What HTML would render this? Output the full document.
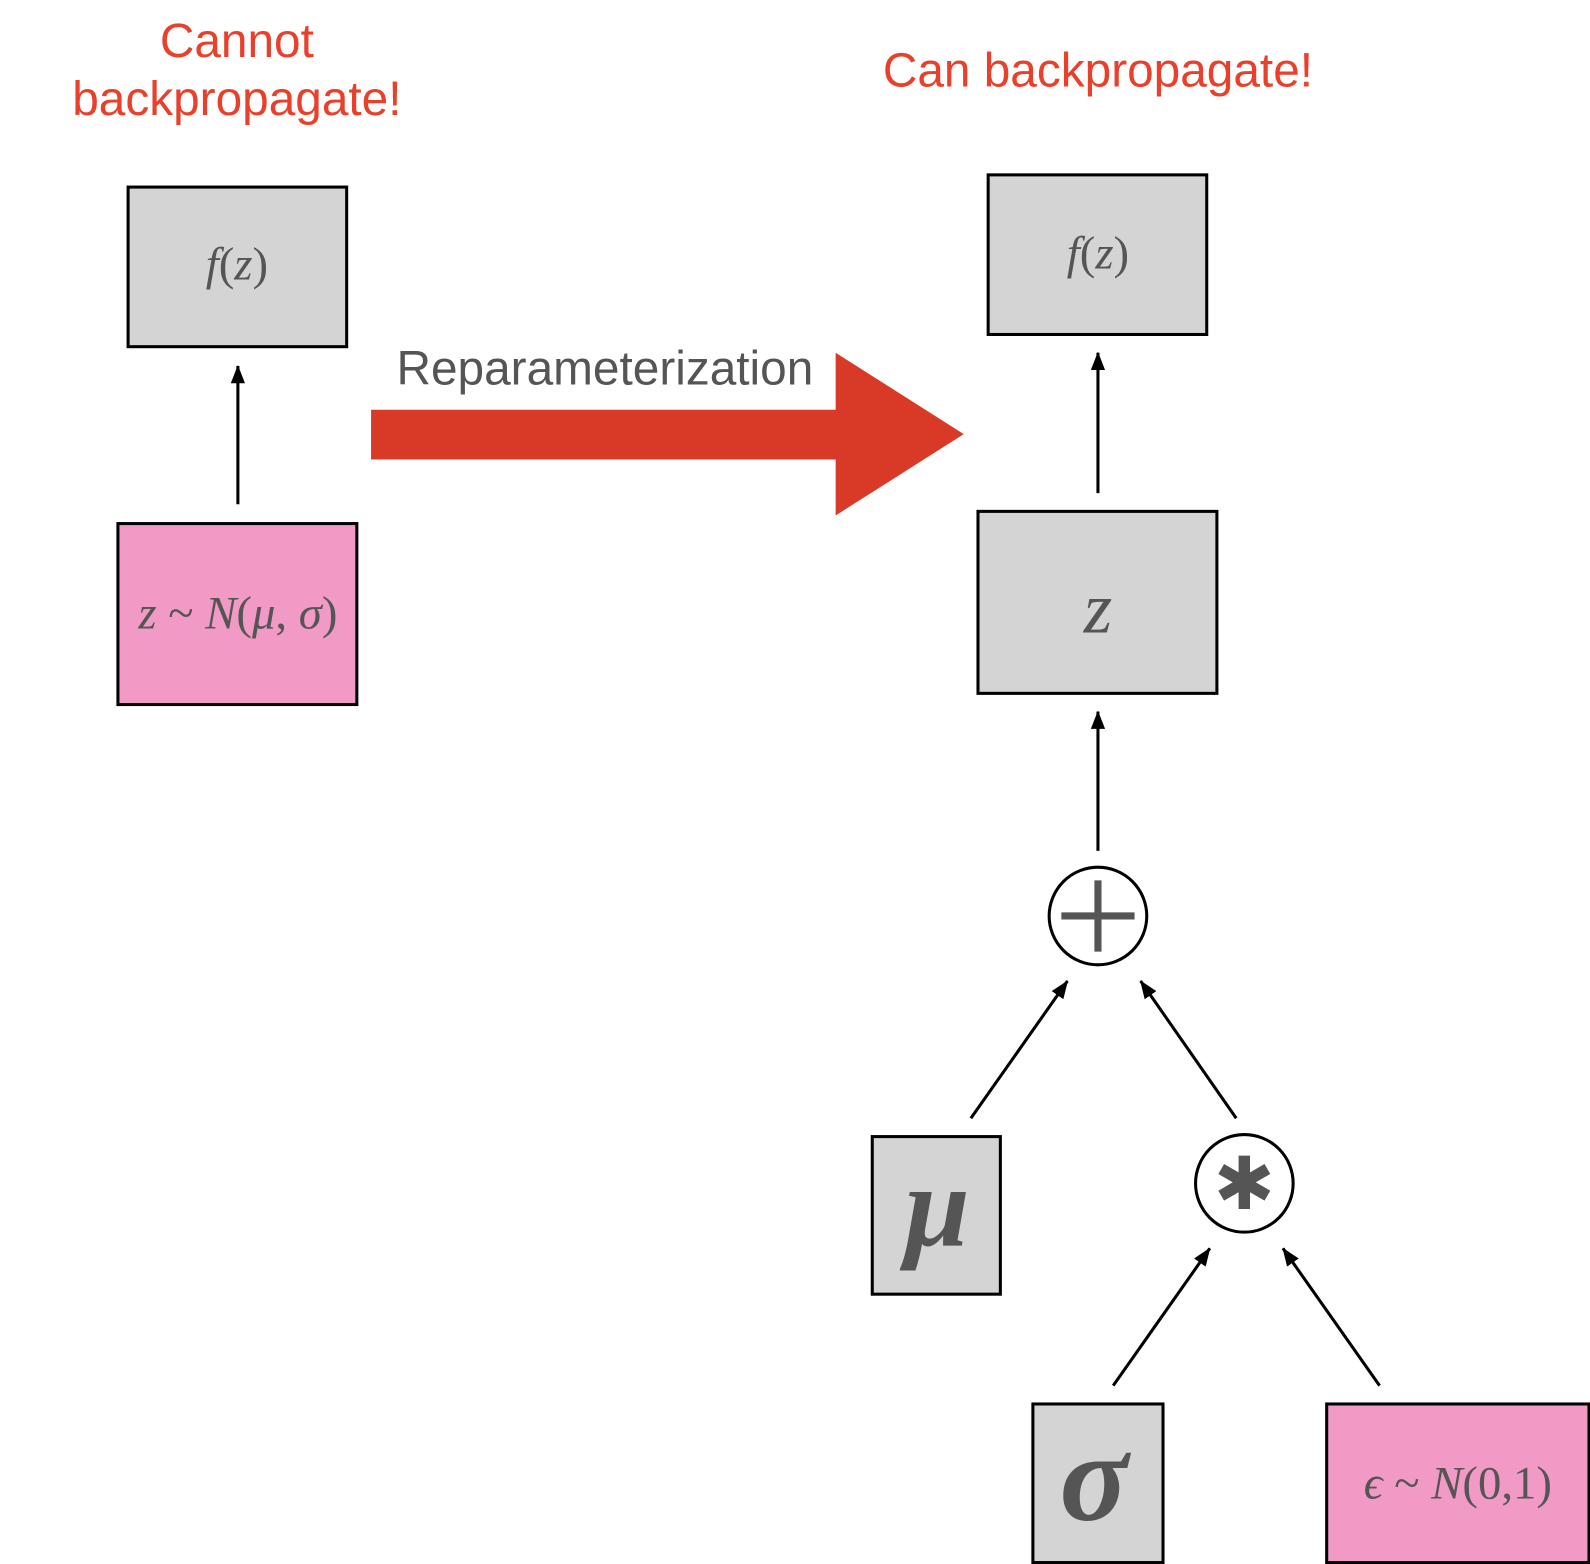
<!DOCTYPE html>
<html><head><meta charset="utf-8"><style>
html,body{margin:0;padding:0;background:#fff}
svg{display:block}
.t{font-family:"Liberation Sans",sans-serif;fill:#e8402a;font-size:47px;text-anchor:middle}
.m{font-family:"Liberation Serif",serif;fill:#555;text-anchor:middle}
.i{font-style:italic}
</style></head><body>
<svg width="1590" height="1564" viewBox="0 0 1564 1538.4" xmlns="http://www.w3.org/2000/svg">
<defs>
<marker id="ah" markerWidth="18" markerHeight="18" refX="17" refY="9" orient="auto" markerUnits="userSpaceOnUse" viewBox="0 0 18 18"><path d="M0,2 L18,9 L0,16z" fill="#000"/></marker></defs>
<text class="t" x="233" y="56">Cannot</text>
<text class="t" x="233" y="113">backpropagate!</text>
<text class="t" x="1080" y="85">Can backpropagate!</text>

<rect x="126" y="184" width="215" height="157" fill="#d4d4d4" stroke="#000" stroke-width="3"/>
<text class="m" x="233" y="275" font-size="46"><tspan class="i">f</tspan>(<tspan class="i">z</tspan>)</text>
<line x1="234" y1="496" x2="234" y2="360" stroke="#000" stroke-width="3" marker-end="url(#ah)"/>
<rect x="116" y="515" width="235" height="178" fill="#f19ac6" stroke="#000" stroke-width="3"/>
<text class="m" x="234" y="618" font-size="46"><tspan class="i">z</tspan> ~ <tspan class="i">N</tspan>(<tspan class="i">μ</tspan>, <tspan class="i">σ</tspan>)</text>

<path d="M365,403 L822,403 L822,347 L948,427 L822,507 L822,452 L365,452z" fill="#d93a27"/>
<text x="595" y="378" font-family="Liberation Sans,sans-serif" font-size="47" fill="#555" text-anchor="middle">Reparameterization</text>

<rect x="972" y="172" width="215" height="157" fill="#d4d4d4" stroke="#000" stroke-width="3"/>
<text class="m" x="1080" y="264" font-size="46"><tspan class="i">f</tspan>(<tspan class="i">z</tspan>)</text>
<line x1="1080" y1="485" x2="1080" y2="347" stroke="#000" stroke-width="3" marker-end="url(#ah)"/>
<rect x="962" y="503" width="235" height="179" fill="#d4d4d4" stroke="#000" stroke-width="3"/>
<text class="m i" x="1080" y="622" font-size="72">z</text>
<line x1="1080" y1="837" x2="1080" y2="700" stroke="#000" stroke-width="3" marker-end="url(#ah)"/>

<circle cx="1080" cy="901" r="48" fill="#fff" stroke="#000" stroke-width="3"/>
<path d="M1080,866 V936 M1044,901 H1116" stroke="#555" stroke-width="7"/>
<line x1="955" y1="1100" x2="1050" y2="965" stroke="#000" stroke-width="3" marker-end="url(#ah)"/>
<line x1="1216" y1="1100" x2="1122" y2="965" stroke="#000" stroke-width="3" marker-end="url(#ah)"/>

<rect x="858" y="1118" width="126" height="155" fill="#d4d4d4" stroke="#000" stroke-width="3"/>
<text class="m i" x="922" y="1225" font-size="115" font-weight="bold">μ</text>
<circle cx="1224" cy="1164" r="48" fill="#fff" stroke="#000" stroke-width="3"/>
<text x="1224" y="1189" font-family="DejaVu Sans,sans-serif" font-size="72" fill="#555" text-anchor="middle">✱</text>
<line x1="1095" y1="1363" x2="1190" y2="1228" stroke="#000" stroke-width="3" marker-end="url(#ah)"/>
<line x1="1357" y1="1363" x2="1262" y2="1228" stroke="#000" stroke-width="3" marker-end="url(#ah)"/>

<rect x="1016" y="1381" width="128" height="156" fill="#d4d4d4" stroke="#000" stroke-width="3"/>
<text class="m i" x="1076" y="1495" font-size="125" font-weight="bold">σ</text>
<rect x="1305" y="1381" width="258" height="156" fill="#f19ac6" stroke="#000" stroke-width="3"/>
<text class="m" x="1434" y="1474" font-size="46"><tspan class="i">ϵ</tspan> ~ <tspan class="i">N</tspan>(0,1)</text>
</svg>
</body></html>
